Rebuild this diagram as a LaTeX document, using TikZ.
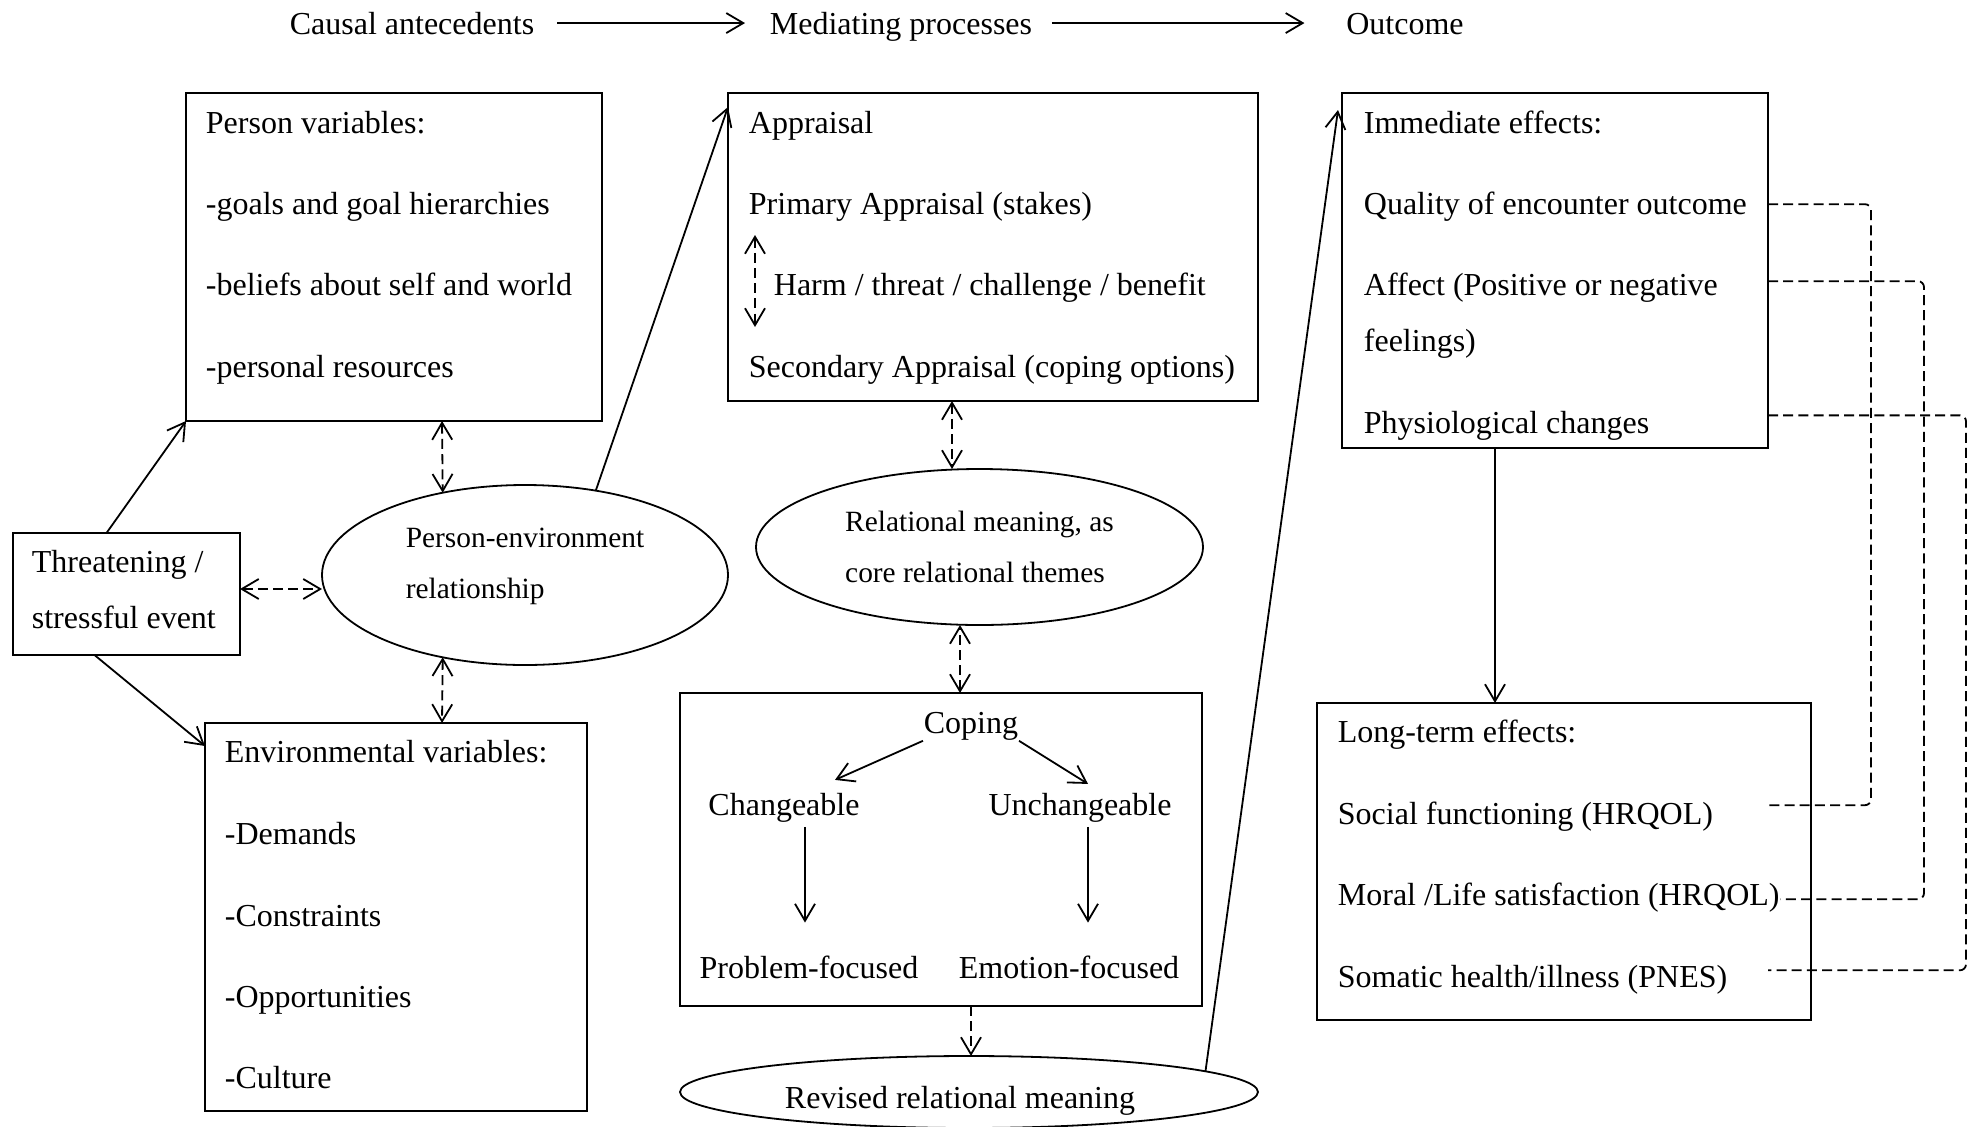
\documentclass[tikz,border=0pt]{standalone}
\usepackage{fontspec}
\setmainfont{Liberation Serif}
\usetikzlibrary{arrows.meta,shapes.geometric,fit,calc}

\begin{document}
\begin{tikzpicture}[x=0.5pt,y=-0.5pt,line width=0.9pt,
  >={Straight Barb[length=8.5pt,width=10pt]},
  every node/.style={font=\fontsize{16pt}{19pt}\selectfont},
  box/.style={draw,inner sep=0pt,outer sep=0pt},
  ell/.style={draw,ellipse,inner sep=0pt,outer sep=0pt,align=left,font=\fontsize{14.7pt}{25.5pt}\selectfont},
  txt/.style={anchor=base west,inner sep=0pt},
  mid/.style={anchor=base,inner sep=0pt},
  dline/.style={dash pattern=on 5pt off 2.6pt}]
\useasboundingbox (0,0) rectangle (1972,1126);
\clip (0,0) rectangle (1972,1126);
% heading
\node[mid] (cause) at (412,34) {Causal antecedents};
\node[mid] (mediate) at (901,34) {Mediating processes};
\node[mid] (outcome) at (1405,34) {Outcome};
\draw[->,shorten <=11pt,shorten >=12pt] (cause.east) -- (cause.east -| mediate.west);
\draw[->,shorten <=9.5pt,shorten >=20.5pt] (cause.east -| mediate.east) -- (cause.east -| outcome.west);
% causal antecedents
\node[box,fit={(186,93) (602,421)}] (person) {};
\node[txt] (pvar) at (205,133) {Person variables:};
\node[txt] (goals) at (205,214) {-goals and goal hierarchies};
\node[txt] (beliefs) at (205,295) {-beliefs about self and world};
\node[txt] (resources) at (205,377) {-personal resources};
\node[box,fit={(13,533) (240,655)}] (threat) {};
\node[txt] (threatA) at (31,572) {Threatening /};
\node[txt] (threatB) at (31,628) {stressful event};
\node[ell,text depth=12pt,minimum width=203pt,minimum height=90pt] (pe) at (525,575) {Person-environment\\relationship\hspace*{2pt}};
\node[box,fit={(205,723) (587,1111)}] (env) {};
\node[txt] (evar) at (224,762) {Environmental variables:};
\node[txt] (demands) at (224,844) {-Demands};
\node[txt] (constraints) at (224,926) {-Constraints};
\node[txt] (opportunities) at (224,1007) {-Opportunities};
\node[txt] (culture) at (224,1088) {-Culture};
% mediating processes
\node[box,fit={(728,93) (1258,401)}] (appraisal) {};
\node[txt] (apptitle) at (748,133) {Appraisal};
\node[txt] (primary) at (748,214) {Primary Appraisal (stakes)};
\node[txt] (harm) at (773,295) {Harm / threat / challenge / benefit};
\node[txt] (secondary) at (748,377) {Secondary Appraisal (coping options)};
\node[ell,minimum width=223.5pt,minimum height=78pt] (relational) at (979.5,547) {Relational meaning, as\\core relational themes};
\node[box,fit={(680,693) (1202,1006)}] (coping) {};
\node[mid] (copinglbl) at (971,733) {Coping};
\node[mid] (changeable) at (784,815) {Changeable};
\node[mid] (unchangeable) at (1080,815) {Unchangeable};
\node[mid] (problem) at (809,978) {Problem-focused};
\node[mid] (emotion) at (1069,978) {Emotion-focused};
\node[ell,font=\fontsize{16pt}{19pt}\selectfont,text height=16pt,text depth=0pt,minimum width=289pt,minimum height=36pt] (revised) at (969,1092) {Revised relational meaning\hspace*{9pt}};
% outcome
\node[box,fit={(1342,93) (1768,448)}] (immediate) {};
\node[txt] (imtitle) at (1363,133) {Immediate effects:};
\node[txt] (quality) at (1363,214) {Quality of encounter outcome};
\node[txt] (affect) at (1363,295) {Affect (Positive or negative};
\node[txt] (feelings) at (1363,351) {feelings)};
\node[txt] (physio) at (1363,433) {Physiological changes};
\node[box,fit={(1317,703) (1811,1020)}] (longterm) {};
\node[txt] (lttitle) at (1337,742) {Long-term effects:};
\node[txt] (social) at (1337,824) {Social functioning (HRQOL)};
\node[txt] (moral) at (1337,905) {Moral /Life satisfaction (HRQOL)};
\node[txt] (somatic) at (1337,987) {Somatic health/illness (PNES)};
% solid arrows
\draw[->] ([xshift=-10pt]threat.north) -- (person.south west);
\draw[->] ([xshift=-16pt]threat.south) -- ([yshift=-11.5pt]env.north west);
\draw[->] (pe.50) -- ([yshift=-7pt]appraisal.north west);
\draw[->] (revised.5) -- ([shift={(-2pt,-8.5pt)}]immediate.north west);
\draw[->] ([xshift=-30pt]immediate.south) -- ([xshift=-30pt]immediate.south |- longterm.north);
\draw[->] (copinglbl.south west) -- ([shift={(25.5pt,6pt)}]changeable.north);
\draw[->] (copinglbl.south east) -- ([shift={(4pt,4pt)}]unchangeable.north);
\draw[->,shorten <=2pt,shorten >=16pt] ([xshift=10.5pt]changeable.south) -- ([xshift=10.5pt]changeable.south |- problem.north);
\draw[->,shorten <=2pt,shorten >=16pt] ([xshift=4pt]unchangeable.south) -- ([xshift=4pt]unchangeable.south |- emotion.north);
% dashed arrows
\draw[<->,dline] ([yshift=2.5pt]threat.east) -- ([yshift=2.5pt]threat.east -| pe.west);
\draw[<->,dline] ([xshift=24pt]person.south) -- (pe.135);
\draw[<->,dline] (pe.225) -- ([xshift=23pt]env.north);
\draw[<->,dline] ([shift={(-9pt,30pt)}]harm.base west) -- ([shift={(-9pt,-16pt)}]harm.base west);
\draw[<->,dline] ([xshift=-20.5pt]appraisal.south) -- ([xshift=-20.5pt]appraisal.south |- relational.north);
\draw[<->,dline] ([xshift=9.5pt]coping.north) -- ([xshift=9.5pt]coping.north |- relational.south);
\draw[->,dline] ([xshift=15pt]coping.south) -- ([xshift=15pt]coping.south |- revised.north);
% dashed links to long-term effects
\draw[dline,rounded corners=3pt] ($(immediate.east |- quality)+(0,-2)$) -- ++(103,0) |- ($(immediate.east |- social)+(0,-11)$);
\draw[dline,rounded corners=3pt] ($(immediate.east |- affect)+(0,-6)$) -- ++(156,0) |- ($(moral.east)+(0,2)$);
\draw[dline,rounded corners=3pt] ($(immediate.east |- physio)+(0,-10)$) -- ++(198,0) |- ($(immediate.east |- somatic)+(0,-9)$);
\end{tikzpicture}
\end{document}
